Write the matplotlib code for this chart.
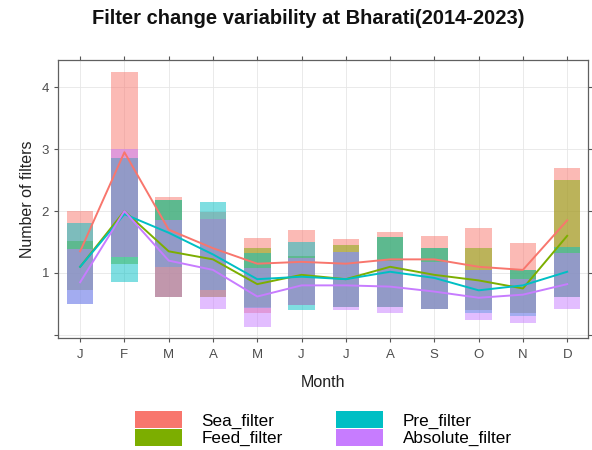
import matplotlib
matplotlib.use("Agg")
import matplotlib.pyplot as plt
from matplotlib.patches import Patch
import numpy as np

plt.rcParams['font.family'] = ['Liberation Sans', 'DejaVu Sans']

months = ['J', 'F', 'M', 'A', 'M', 'J', 'J', 'A', 'S', 'O', 'N', 'D']

sea_min = [0.73, 1.26, 0.62, 0.62, 0.35, 0.48, 0.45, 0.45, 0.42, 0.40, 0.35, 0.62]
sea_max = [2.00, 4.25, 2.23, 1.98, 1.56, 1.70, 1.55, 1.66, 1.60, 1.72, 1.49, 2.69]
sea_mean = [1.35, 2.95, 1.70, 1.40, 1.15, 1.18, 1.15, 1.22, 1.22, 1.10, 1.05, 1.85]

feed_min = [0.73, 1.15, 0.62, 0.62, 0.45, 0.48, 0.45, 0.45, 0.42, 0.40, 0.35, 0.62]
feed_max = [1.52, 2.85, 2.18, 1.88, 1.40, 1.28, 1.45, 1.58, 1.40, 1.40, 1.05, 2.50]
feed_mean = [1.10, 2.00, 1.35, 1.22, 0.82, 0.97, 0.90, 1.10, 0.97, 0.88, 0.75, 1.60]

pre_min = [0.50, 0.85, 1.10, 0.72, 0.44, 0.40, 0.45, 0.45, 0.42, 0.35, 0.30, 0.62]
pre_max = [1.80, 2.85, 2.18, 2.15, 1.32, 1.50, 1.34, 1.58, 1.40, 1.05, 1.05, 1.42]
pre_mean = [1.10, 1.95, 1.65, 1.30, 0.90, 0.94, 0.90, 1.02, 0.92, 0.72, 0.80, 1.02]

abs_min = [0.50, 1.26, 0.62, 0.42, 0.13, 0.48, 0.40, 0.35, 0.42, 0.24, 0.20, 0.42]
abs_max = [1.38, 3.00, 1.85, 1.88, 1.08, 1.25, 1.34, 1.20, 1.18, 1.05, 0.90, 1.32]
abs_mean = [0.85, 2.00, 1.20, 1.05, 0.62, 0.80, 0.80, 0.78, 0.70, 0.60, 0.65, 0.82]

filters = ['Sea_filter', 'Feed_filter', 'Pre_filter', 'Absolute_filter']
colors = ['#F8766D', '#7CAE00', '#00BFC4', '#C77CFF']
mins = [sea_min, feed_min, pre_min, abs_min]
maxs = [sea_max, feed_max, pre_max, abs_max]
means = [sea_mean, feed_mean, pre_mean, abs_mean]

fig = plt.figure(figsize=(5.92, 4.50), dpi=100)
ax = fig.add_axes([58 / 592, 1 - 338 / 450, 530 / 592, 278 / 450])

x = np.arange(1, 13)

# grid
ax.set_axisbelow(True)
ax.grid(True, color='#e6e6e6', linewidth=0.6)

# min-max range boxes per filter
for lo, hi, c in zip(mins, maxs, colors):
    lo = np.array(lo)
    hi = np.array(hi)
    ax.bar(x, hi - lo, bottom=lo, width=0.6, color=c, alpha=0.5, linewidth=0)

# monthly mean lines
for m, c in zip(means, colors):
    ax.plot(x, m, color=c, linewidth=1.4, zorder=3)

ax.set_xlim(0.5, 12.47)
ax.set_ylim(-0.05, 4.44)
ax.set_xticks(x)
ax.set_xticklabels(months)
ax.set_yticks([0, 1, 2, 3, 4])
ax.set_yticklabels(['', '1', '2', '3', '4'])

ax.tick_params(axis='both', which='both', direction='out', length=3, width=0.8,
               color='#555555', labelcolor='#4d4d4d', labelsize=9.5,
               top=True, right=True, labeltop=False, labelright=False)
ax.tick_params(axis='x', pad=5)
for s in ax.spines.values():
    s.set_color('#606060')
    s.set_linewidth(0.9)

ax.set_xlabel('Month', fontsize=11.5, color='#222222', labelpad=10)
ax.set_ylabel('Number of filters', fontsize=11.5, color='#222222', labelpad=5)

fig.text(0.52, 0.958, 'Filter change variability at Bharati(2014-2023)',
         ha='center', va='center', fontsize=14.5, fontweight='bold', color='#111111')

handles = [Patch(facecolor=c, edgecolor='none', label=f) for f, c in zip(filters, colors)]
fig.legend(handles=handles, ncol=2, loc='upper left', bbox_to_anchor=(135 / 592, 1 - 411 / 450),
           frameon=False, fontsize=12.3, handlelength=2.75, handleheight=1.17,
           labelspacing=0.0, handletextpad=1.15, columnspacing=3.1, borderpad=0,
           borderaxespad=0)

fig.savefig('out.png', dpi=100)
